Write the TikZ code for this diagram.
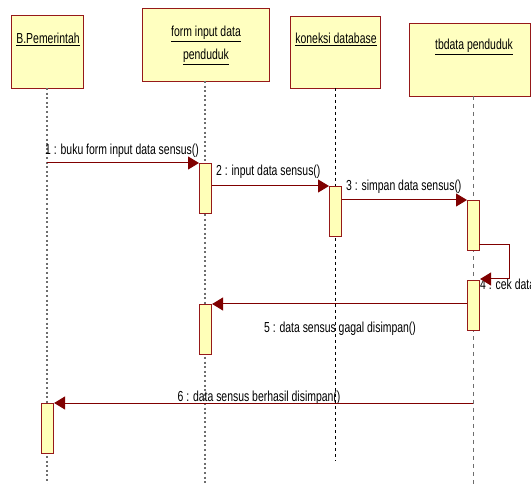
\documentclass[tikz,border=0pt]{standalone}
\usepackage{fontspec}
\setmainfont[FakeStretch=0.72]{Liberation Sans}
\usetikzlibrary{arrows.meta}
\definecolor{boxfill}{RGB}{255,255,192}
\definecolor{actfill}{RGB}{255,255,184}
\definecolor{boxline}{RGB}{150,25,25}
\definecolor{msgline}{RGB}{128,0,0}
\definecolor{lifegray}{RGB}{110,110,110}
\begin{document}
\begin{tikzpicture}[x=1pt,y=-1pt,
  objbox/.style={draw=boxline,fill=boxfill,line width=1.3pt,inner sep=0pt,anchor=north west},
  actbox/.style={draw=boxline,fill=actfill,line width=1.1pt,inner sep=0pt,anchor=north west,minimum width=12pt,minimum height=50pt},
  txt/.style={inner sep=0pt,font=\fontsize{14.5}{16}\selectfont},
  lifedot/.style={draw=lifegray,line width=1.1pt,dash pattern=on 2pt off 2.6pt},
  lifedash/.style={draw=black,line width=0.8pt,dash pattern=on 3pt off 3pt},
  lifegrey/.style={draw=lifegray,line width=0.9pt,dash pattern=on 4pt off 4pt},
  msg/.style={draw=msgline,line width=1pt,-{Triangle[length=11pt,width=13pt]}}]
\useasboundingbox (0,0) rectangle (531,484);
\fill[white] (0,0) rectangle (531,484);
% object boxes
\node[objbox,minimum width=72pt,minimum height=73pt] (pem) at (11,15) {};
\node[objbox,minimum width=127pt,minimum height=73pt] (form) at (142,8) {};
\node[objbox,minimum width=90pt,minimum height=72pt] (kon) at (290,16) {};
\node[objbox,minimum width=121pt,minimum height=73pt] (tb) at (409,23) {};
\node[txt,anchor=base] (tpem) at (48,44) {\underline{B.Pemerintah}};
\node[txt,anchor=base] (tform1) at (206,37) {\underline{form input data}};
\node[txt,anchor=base] (tform2) at (206,60) {\underline{penduduk}};
\node[txt,anchor=base] (tkon) at (336,44) {\underline{koneksi database}};
\node[txt,anchor=base] (ttb) at (474,50) {\underline{tbdata penduduk}};
% lifeline coordinates
\coordinate (pemtop) at (47,88);
\coordinate (pembot) at (47,484);
\coordinate (formtop) at (205,81);
\coordinate (formbot) at (205,484);
\coordinate (kontop) at (335,88);
\coordinate (konbot) at (335,461);
\coordinate (tbtop) at (473,96);
\coordinate (tbbot) at (473,484);
\draw[lifedot] (pemtop) -- (pembot);
\draw[lifedot] (formtop) -- (formbot);
\draw[lifedash] (kontop) -- (konbot);
\draw[lifegrey] (tbtop) -- (tbbot);
% activations
\node[actbox] (a1) at (199,163) {};
\node[actbox] (a2) at (329,186) {};
\node[actbox] (a3) at (467,200) {};
\node[actbox] (a4) at (467,280) {};
\node[actbox] (a5) at (199,304) {};
\node[actbox] (a6) at (41,403) {};
% labels
\node[txt,anchor=base west] (l1) at (45,155) {1 : buku form input data sensus()};
\node[txt,anchor=base west] (l2) at (216,176) {2 : input data sensus()};
\node[txt,anchor=base west] (l3) at (346,191) {3 : simpan data sensus()};
\node[txt,anchor=base west] (l4) at (480,290) {4 : cek data};
\node[txt,anchor=base] (l5) at (340,333) {5 : data sensus gagal disimpan()};
\node[txt,anchor=base] (l6) at (259,401) {6 : data sensus berhasil disimpan()};
% messages
\coordinate (m1s) at (47,163);
\draw[msg] (m1s) -- (a1.north west);
\draw[msg] (a1.east |- a2.north) -- (a2.north west);
\draw[msg] (a2.east |- a3.north) -- (a3.north west);
\coordinate (s4a) at (479,245);
\coordinate (s4b) at (509,245);
\coordinate (s4c) at (509,279);
\draw[msg] (s4a) -- (s4b) -- (s4c) -- (a4.north east |- s4c);
\draw[msg] (a4.north west |- a5.north) -- (a5.north east);
\coordinate (m6s) at (473,403);
\draw[msg] (m6s) -- (a6.north east);
\end{tikzpicture}
\end{document}
